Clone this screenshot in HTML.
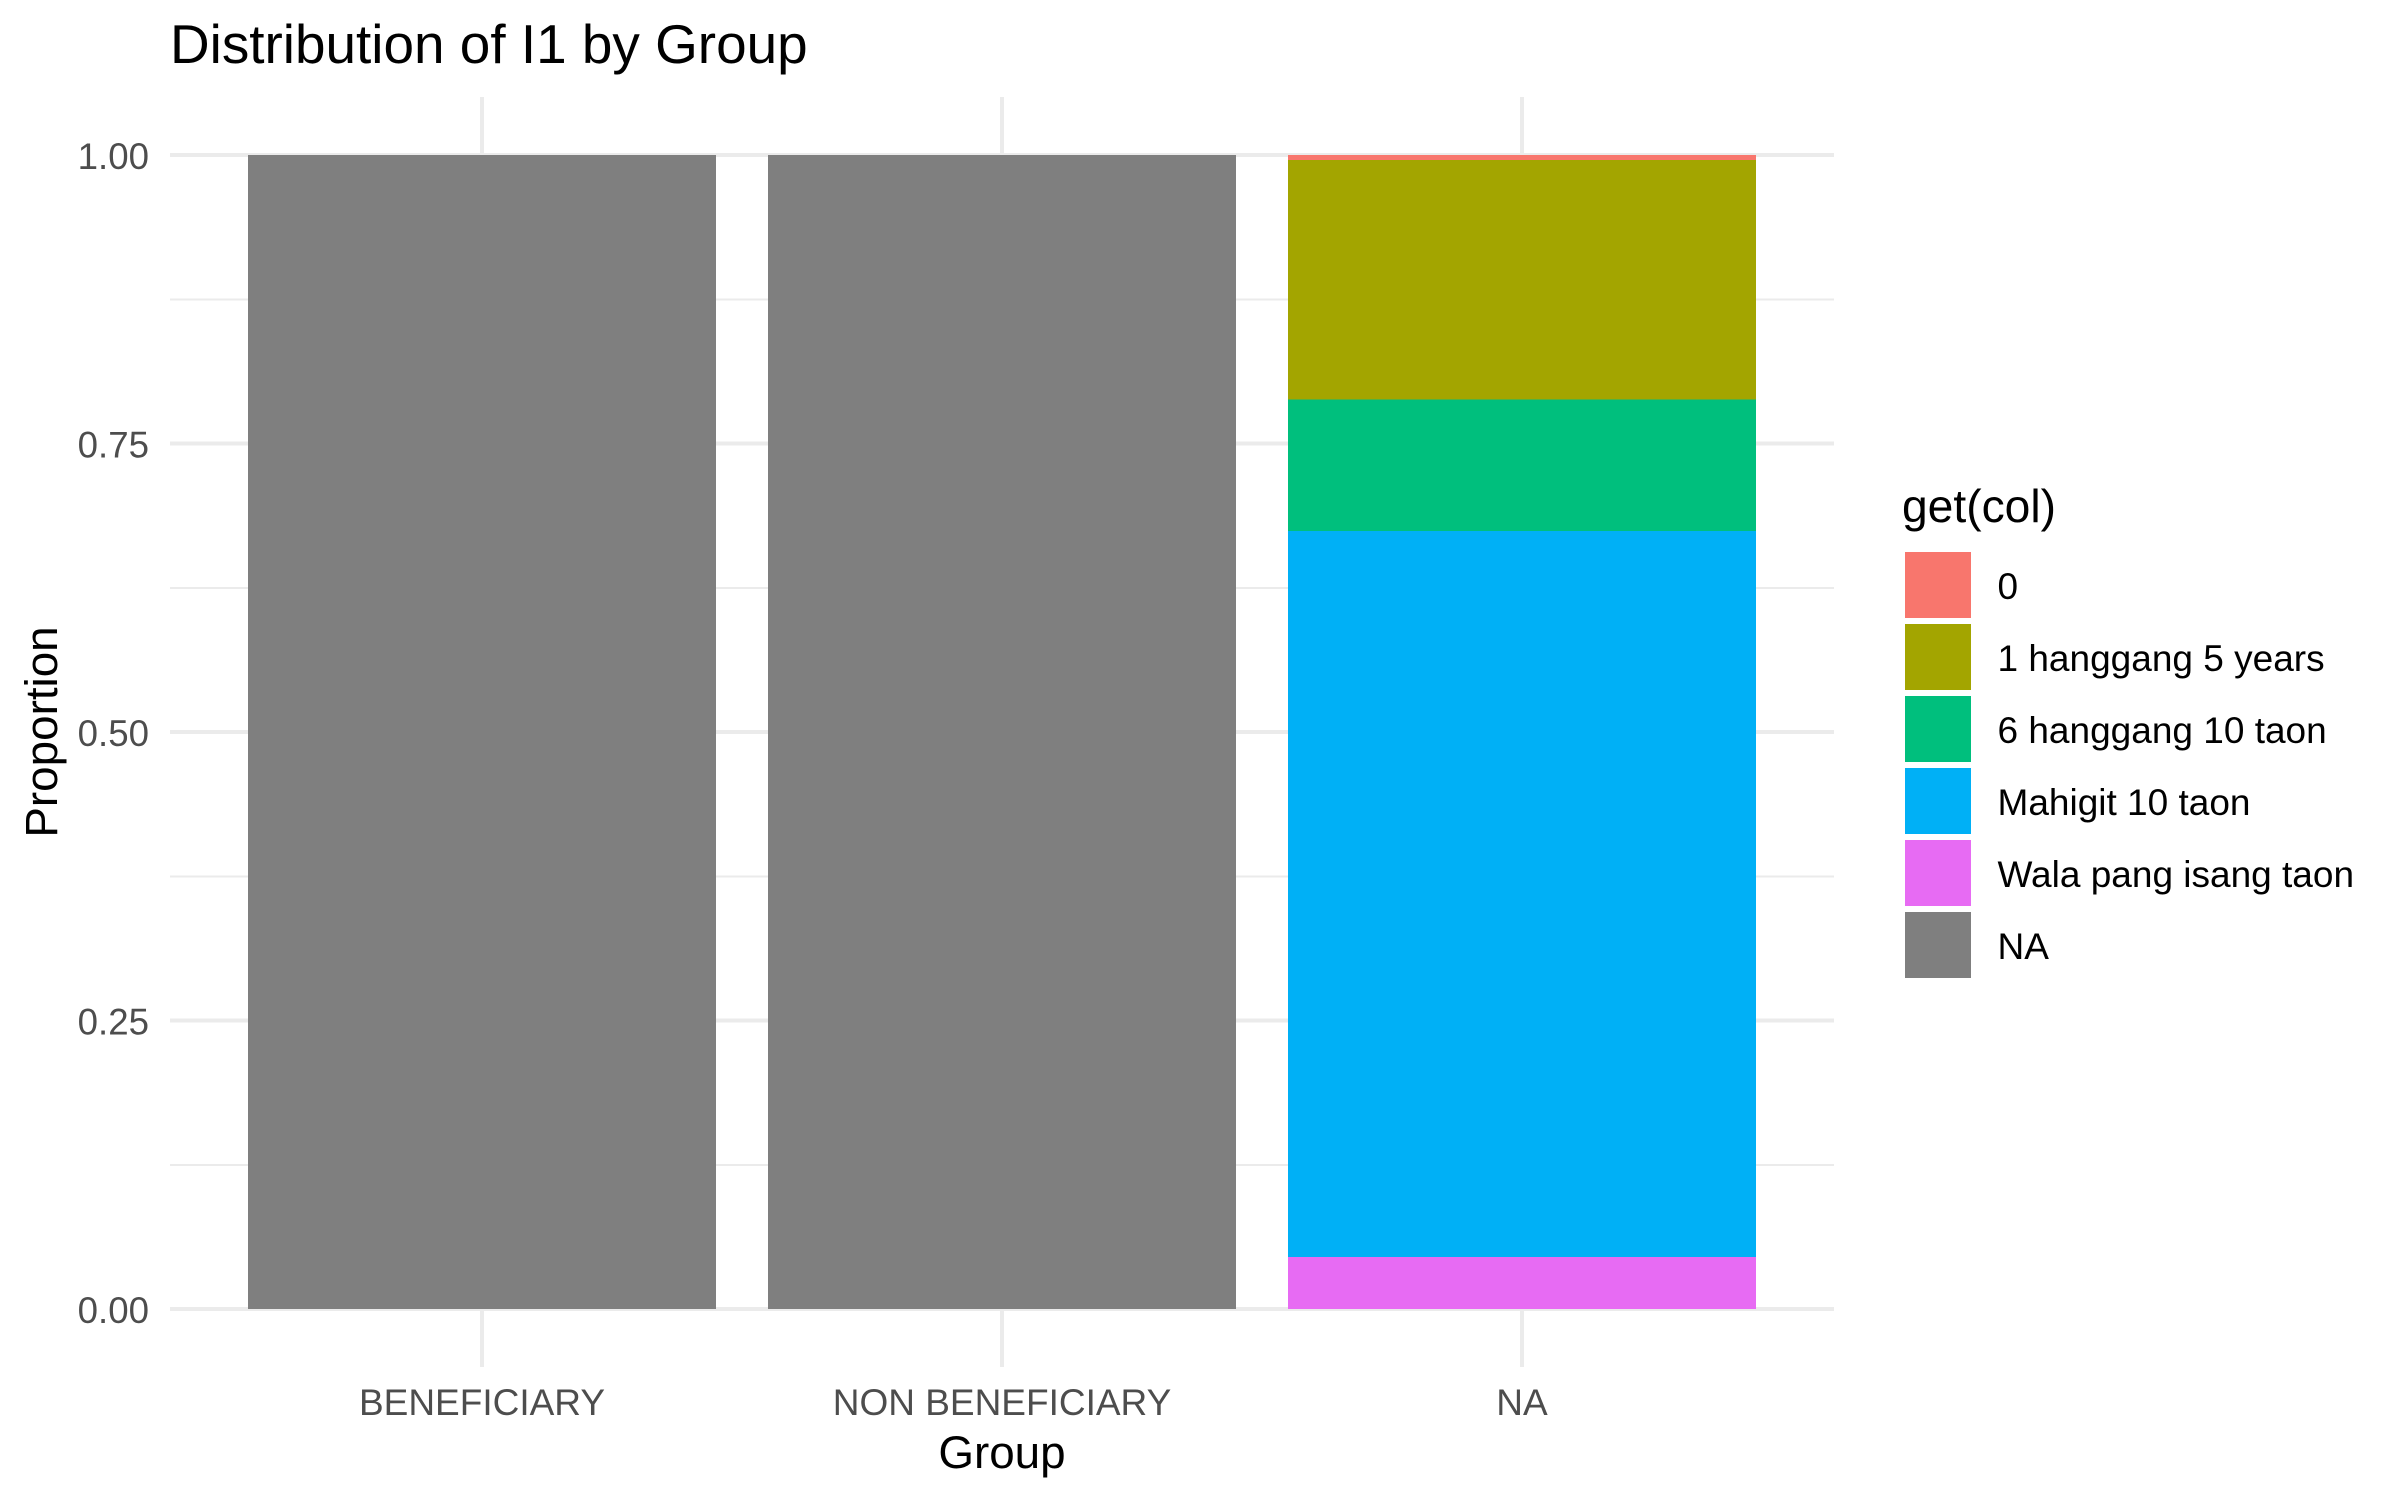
<!DOCTYPE html>
<html lang="en">
<head>
<meta charset="utf-8">
<title>Distribution of I1 by Group</title>
<style>
html,body{margin:0;padding:0;background:#fff;width:2400px;height:1500px;overflow:hidden}
svg{display:block}
text{font-family:"Liberation Sans",Arial,sans-serif}
</style>
</head>
<body>
<svg id="chart" xmlns="http://www.w3.org/2000/svg" width="2400" height="1500" viewBox="0 0 2400 1500">
  <rect x="0" y="0" width="2400" height="1500" fill="#ffffff"/>
  <g id="grid"></g>
  <g id="bars"></g>
  <g id="axes"></g>
  <g id="legend"></g>
  <text x="170" y="63" font-size="54.9" fill="#000000">Distribution of I1 by Group</text>
  <text x="1002" y="1468" font-size="45.8" fill="#000000" text-anchor="middle">Group</text>
  <text transform="translate(57 732) rotate(-90)" font-size="45.8" fill="#000000" text-anchor="middle">Proportion</text>
  <text x="1902" y="522" font-size="46.2" fill="#000000">get(col)</text>
</svg>
<script>
const categories = ['BENEFICIARY', 'NON BENEFICIARY', 'NA'];
const levels = ['0', '1 hanggang 5 years', '6 hanggang 10 taon', 'Mahigit 10 taon', 'Wala pang isang taon', 'NA'];
const valuesBeneficiary = [0, 0, 0, 0, 0, 1];
const valuesNonBeneficiary = [0, 0, 0, 0, 0, 1];
const valuesNA = [0.0043, 0.2077, 0.114, 0.629, 0.045, 0];
const yTickValues = [0, 0.25, 0.5, 0.75, 1];
const yTickLabels = ['0.00', '0.25', '0.50', '0.75', '1.00'];
const yMinorValues = [0.125, 0.375, 0.625, 0.875];
const palette = ['#F8766D', '#A3A500', '#00BF7D', '#00B0F6', '#E76BF3', '#7F7F7F'];

const groupValues = [valuesBeneficiary, valuesNonBeneficiary, valuesNA];
const SVG_NS = 'http://www.w3.org/2000/svg';
const panel = { left: 170, right: 1834, top: 97, bottom: 1367 };
const yZero = 1309;
const yOne = 155;
const bandStep = (panel.right - panel.left) / (categories.length - 1 + 2 * 0.6 + 0);
const bandStart = panel.left + 0.6 * bandStep;
const barWidth = 0.9 * bandStep;

function xScale(index) {
  return bandStart + index * bandStep;
}
function yScale(value) {
  return yZero + (yOne - yZero) * value;
}
function make(tag, parentId, attrs) {
  const el = document.createElementNS(SVG_NS, tag);
  Object.keys(attrs).forEach(function (key) {
    el.setAttribute(key, attrs[key]);
  });
  document.getElementById(parentId).appendChild(el);
  return el;
}

yMinorValues.forEach(function (value) {
  const el = make('line', 'grid', { x1: panel.left, x2: panel.right, y1: yScale(value), y2: yScale(value), stroke: '#EBEBEB', 'stroke-width': 2, 'shape-rendering': 'crispEdges' });
  
  
});

yTickValues.forEach(function (value) {
  const el = make('line', 'grid', { x1: panel.left, x2: panel.right, y1: yScale(value), y2: yScale(value), stroke: '#EBEBEB', 'stroke-width': 4, 'shape-rendering': 'crispEdges' });
  
  
});

categories.forEach(function (name, index) {
  const el = make('line', 'grid', { x1: xScale(index), x2: xScale(index), y1: panel.top, y2: panel.bottom, stroke: '#EBEBEB', 'stroke-width': 4, 'shape-rendering': 'crispEdges' });
  
  
});

groupValues.forEach(function (values, groupIndex) {
  let cumulative = 0;
  for (let i = levels.length - 1; i >= 0; i--) {
    const value = values[i];
    if (value <= 0) continue;
    const y0 = yScale(cumulative);
    const y1 = yScale(cumulative + value);
    const el = make('rect', 'bars', {
      x: xScale(groupIndex) - barWidth / 2,
      y: y1,
      width: barWidth,
      height: y0 - y1,
      fill: palette[i],
      'shape-rendering': 'crispEdges'
    });
    
    
    cumulative += value;
  }
});

yTickValues.forEach(function (value, index) {
  const el = make('text', 'axes', { x: 149, y: yScale(value) + 14, 'font-size': 36.67, fill: '#4D4D4D', 'text-anchor': 'end' });
  el.textContent = yTickLabels[index];
  
  
});

categories.forEach(function (name, index) {
  const el = make('text', 'axes', { x: xScale(index), y: 1415, 'font-size': 37, fill: '#4D4D4D', 'text-anchor': 'middle' });
  el.textContent = name;
  
  
});

levels.forEach(function (name, index) {
  const top = 552 + index * 72;
  const swatch = make('rect', 'legend', { x: 1905, y: top, width: 66, height: 66, fill: palette[index], 'shape-rendering': 'crispEdges' });
  
  
  const label = make('text', 'legend', { x: 1997.5, y: top + 47, 'font-size': 37, fill: '#000000' });
  label.textContent = name;
  
  
});
</script>
</body>
</html>
